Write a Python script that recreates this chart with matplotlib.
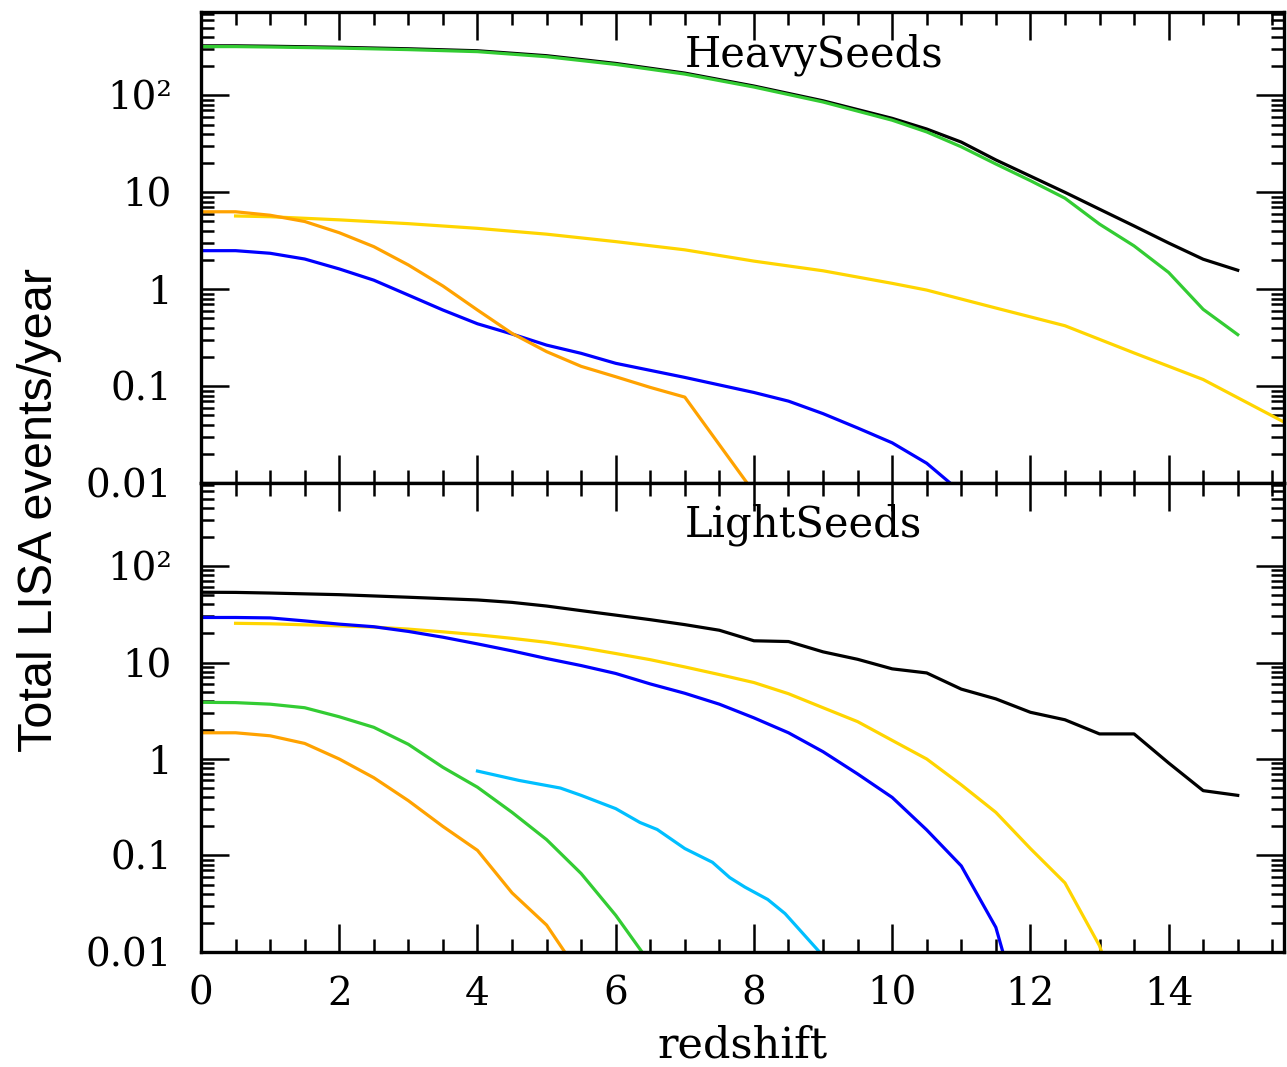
import matplotlib
matplotlib.use('Agg')
import matplotlib.pyplot as plt
from matplotlib.ticker import LogLocator, MultipleLocator, NullFormatter

plt.rcParams['font.family'] = ['DejaVu Serif']

# ---------------- data: Heavy seeds (top panel) ----------------
heavy_black_z = [0, 0.5, 1, 2, 3, 4, 5, 6, 7, 8, 9, 10, 10.5, 11, 11.5, 12, 12.5, 13, 13.5, 14, 14.5, 15]
heavy_black_v = [325, 325, 322, 314, 303, 289, 257, 214, 170, 125, 88, 58, 45, 33, 21.6, 14.7, 10.0, 6.7, 4.5, 3.0, 2.04, 1.57]

heavy_green_z = [0, 0.5, 1, 2, 3, 4, 5, 6, 7, 8, 9, 10, 10.5, 11, 11.5, 12, 12.5, 13, 13.5, 14, 14.5, 15]
heavy_green_v = [319, 319, 316, 308, 297, 283, 251, 209, 166, 122, 85.5, 55.5, 42, 29.5, 19.6, 13.2, 8.7, 4.7, 2.8, 1.49, 0.62, 0.34]

heavy_yellow_z = [0.5, 1, 2, 3, 4, 5, 6, 7, 8, 9, 10, 10.5, 11.5, 12.5, 13.5, 14.5, 16]
heavy_yellow_v = [5.7, 5.6, 5.2, 4.75, 4.25, 3.7, 3.1, 2.55, 1.95, 1.55, 1.15, 0.98, 0.64, 0.42, 0.22, 0.117, 0.032]

heavy_blue_z = [0, 0.5, 1, 1.5, 2, 2.5, 3, 3.5, 4, 4.5, 5, 5.5, 6, 7, 8, 8.5, 9, 9.5, 10, 10.5, 11]
heavy_blue_v = [2.5, 2.5, 2.35, 2.05, 1.62, 1.24, 0.87, 0.61, 0.44, 0.345, 0.265, 0.218, 0.172, 0.123, 0.086, 0.07, 0.052, 0.037, 0.026, 0.016, 0.008]

heavy_orange_z = [0, 0.5, 1, 1.5, 2, 2.5, 3, 3.5, 4, 4.5, 5, 5.5, 6, 6.5, 7, 8]
heavy_orange_v = [6.3, 6.3, 5.8, 5.0, 3.83, 2.75, 1.78, 1.08, 0.61, 0.35, 0.227, 0.16, 0.125, 0.097, 0.077, 0.008]

# ---------------- data: Light seeds (bottom panel) ----------------
light_black_z = [0, 0.5, 1, 2, 3, 4, 4.5, 5, 5.5, 6, 6.5, 7, 7.5, 8, 8.5, 9, 9.5, 10, 10.5, 11, 11.5, 12, 12.5, 13, 13.5, 14, 14.5, 15]
light_black_v = [53.5, 53.3, 52.5, 50.5, 47.5, 44.5, 42, 38.5, 34.5, 31, 27.8, 24.7, 21.6, 16.8, 16.5, 12.9, 10.8, 8.6, 7.8, 5.3, 4.2, 3.05, 2.55, 1.82, 1.82, 0.91, 0.47, 0.42]

light_yellow_z = [0.5, 1, 1.5, 2, 2.5, 3, 3.5, 4, 4.5, 5, 5.5, 6, 6.5, 7, 7.5, 8, 8.5, 9, 9.5, 10, 10.5, 11, 11.5, 12, 12.5, 13, 13.5]
light_yellow_v = [25.5, 25.2, 24.6, 24.0, 23.3, 22.2, 20.8, 19.4, 17.8, 16.2, 14.3, 12.4, 10.7, 9.0, 7.5, 6.2, 4.75, 3.4, 2.44, 1.56, 1.0, 0.54, 0.28, 0.118, 0.052, 0.0116, 0.001]

light_blue_z = [0, 0.5, 1, 1.5, 2, 2.5, 3, 3.5, 4, 4.5, 5, 5.5, 6, 6.5, 7, 7.5, 8, 8.5, 9, 9.5, 10, 10.5, 11, 11.5, 12]
light_blue_v = [29.3, 29.3, 29.0, 27.0, 25.0, 23.5, 21.0, 18.3, 15.6, 13.2, 11.0, 9.3, 7.7, 6.0, 4.8, 3.7, 2.67, 1.87, 1.19, 0.70, 0.40, 0.184, 0.078, 0.018, 0.001]

light_green_z = [0, 0.5, 1, 1.5, 2, 2.5, 3, 3.5, 4, 4.5, 5, 5.5, 6, 6.5]
light_green_v = [3.87, 3.84, 3.7, 3.4, 2.74, 2.13, 1.42, 0.82, 0.51, 0.28, 0.146, 0.065, 0.024, 0.0076]

light_orange_z = [0, 0.5, 1, 1.5, 2, 2.5, 3, 3.5, 4, 4.5, 5, 5.5]
light_orange_v = [1.87, 1.87, 1.74, 1.45, 1.0, 0.64, 0.37, 0.2, 0.113, 0.041, 0.019, 0.0056]

light_cyan_z = [4.0, 4.6, 5.2, 5.5, 6.0, 6.35, 6.6, 7.0, 7.4, 7.65, 7.87, 8.2, 8.45, 9.0]
light_cyan_v = [0.75, 0.6, 0.5, 0.42, 0.306, 0.22, 0.186, 0.118, 0.085, 0.059, 0.047, 0.035, 0.025, 0.0091]

ytick_vals = [0.01, 0.1, 1, 10, 100]
ytick_labels = ['0.01', '0.1', '1', '10', '10\u00b2']
xtick_vals = [0, 2, 4, 6, 8, 10, 12, 14]
xtick_labels = ['0', '2', '4', '6', '8', '10', '12', '14']
panel_titles = ['HeavySeeds', 'LightSeeds']
xlabel_text = 'redshift'
ylabel_text = 'Total LISA events/year'

C_BLACK = 'black'
C_GREEN = '#33cc33'
C_YELLOW = '#ffd500'
C_BLUE = '#0000ff'
C_ORANGE = '#ffa200'
C_CYAN = '#00bfff'
LW = 2.3

fig = plt.figure(figsize=(12.87, 10.67), dpi=100)
ax_top = fig.add_axes([0.1562, 0.5473, 0.8415, 0.4414])
ax_bot = fig.add_axes([0.1562, 0.1078, 0.8415, 0.4395])

# top panel
ax_top.plot(heavy_black_z, heavy_black_v, color=C_BLACK, lw=LW)
ax_top.plot(heavy_green_z, heavy_green_v, color=C_GREEN, lw=LW)
ax_top.plot(heavy_yellow_z, heavy_yellow_v, color=C_YELLOW, lw=LW)
ax_top.plot(heavy_blue_z, heavy_blue_v, color=C_BLUE, lw=LW)
ax_top.plot(heavy_orange_z, heavy_orange_v, color=C_ORANGE, lw=LW)

# bottom panel
ax_bot.plot(light_black_z, light_black_v, color=C_BLACK, lw=LW)
ax_bot.plot(light_yellow_z, light_yellow_v, color=C_YELLOW, lw=LW)
ax_bot.plot(light_blue_z, light_blue_v, color=C_BLUE, lw=LW)
ax_bot.plot(light_green_z, light_green_v, color=C_GREEN, lw=LW)
ax_bot.plot(light_orange_z, light_orange_v, color=C_ORANGE, lw=LW)
ax_bot.plot(light_cyan_z, light_cyan_v, color=C_CYAN, lw=LW)

for ax, title in zip((ax_top, ax_bot), panel_titles):
    ax.set_yscale('log')
    ax.set_xlim(0, 15.67)
    ax.set_ylim(0.01, 725)
    ax.set_yticks(ytick_vals)
    ax.set_yticklabels(ytick_labels)
    ax.yaxis.set_minor_locator(LogLocator(base=10, subs=range(2, 10), numticks=20))
    ax.yaxis.set_minor_formatter(NullFormatter())
    ax.set_xticks(xtick_vals)
    ax.set_xticklabels(xtick_labels)
    ax.xaxis.set_minor_locator(MultipleLocator(0.5))
    ax.tick_params(which='both', direction='in', top=True, right=True, width=1.8, labelsize=28)
    ax.tick_params(which='major', length=20)
    ax.tick_params(which='minor', length=9.5)
    ax.tick_params(axis='y', pad=21)
    ax.tick_params(axis='x', pad=17)
    for s in ax.spines.values():
        s.set_linewidth(2.4)
    ax.text(7.0, 200, title, fontsize=30, ha='left', va='baseline')

ax_top.tick_params(labelbottom=False)

fig.text(0.577, 0.0085, xlabel_text, fontsize=31, ha='center', va='baseline')
fig.text(0.031, 0.522, ylabel_text, fontsize=35, rotation=90, ha='center', va='center',
         family=['Liberation Sans', 'DejaVu Sans'])

fig.savefig('out.png', dpi=100)
